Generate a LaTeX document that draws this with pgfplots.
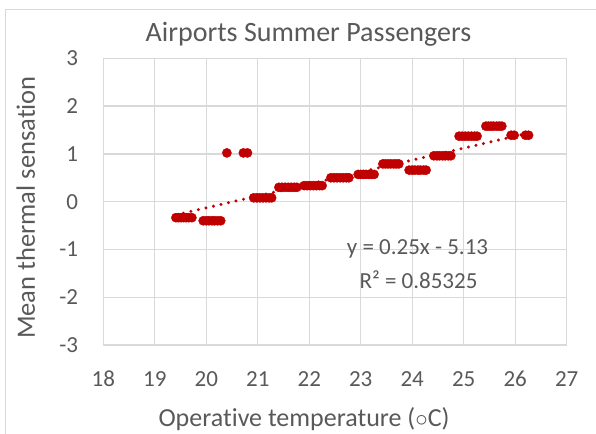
\documentclass[border=0pt]{standalone}
\usepackage{pgfplots}
\pgfplotsset{compat=1.18}
\usepackage{fontspec}
\setmainfont{Carlito}[Ligatures={NoCommon}]
\definecolor{dred}{HTML}{C00000}
\definecolor{gridc}{HTML}{D9D9D9}
\definecolor{txt}{HTML}{595959}
\begin{document}
\begin{tikzpicture}
\useasboundingbox (0pt,0pt) rectangle (596pt,433pt);
\draw[gridc, line width=1pt] (5.5pt,-5pt) -- (5.5pt,423.5pt) -- (610pt,423.5pt);
\begin{axis}[
  at={(103.3pt,88pt)}, anchor=south west,
  scale only axis, width=463.4pt, height=286.7pt,
  xmin=18, xmax=27, ymin=-3, ymax=3,
  xtick={18,19,20,21,22,23,24,25,26,27},
  xticklabels={18,19,20,21,22,23,24,25,26,27},
  ytick={-3,-2,-1,0,1,2,3},
  yticklabels={-3,-2,-1,0,1,2,3},
  grid=major, major grid style={gridc, line width=1.3pt},
  axis line style={gridc, line width=1.3pt},
  major tick length=0pt,
  tick label style={font=\fontsize{23}{27}\selectfont, text=txt},
  xticklabel style={anchor=base, yshift=-41.7pt, inner sep=0pt},
  yticklabel style={anchor=east, xshift=-25pt, inner sep=0pt},
  clip=false,
]
\addplot[dred, line width=3.3pt, line cap=round, dash pattern=on 0pt off 7.7pt, forget plot]
  coordinates {(19.41,-0.2775) (26.26,1.435)};
\addplot[only marks, mark=*, mark size=4.6pt, mark options={fill=dred, draw=dred}]
  table[row sep=\\] {
x y\\
19.41 -0.335\\ 19.46 -0.335\\ 19.51 -0.335\\ 19.56 -0.335\\ 19.61 -0.335\\ 19.66 -0.335\\ 19.72 -0.335\\
19.94 -0.40\\ 20.00 -0.40\\ 20.05 -0.40\\ 20.11 -0.40\\ 20.16 -0.40\\ 20.22 -0.40\\ 20.28 -0.40\\
20.40 1.02\\ 20.72 1.02\\ 20.80 1.02\\
20.92 0.08\\ 20.98 0.08\\ 21.04 0.08\\ 21.10 0.08\\ 21.16 0.08\\ 21.22 0.08\\ 21.27 0.08\\
21.41 0.30\\ 21.47 0.30\\ 21.53 0.30\\ 21.59 0.30\\ 21.65 0.30\\ 21.71 0.30\\ 21.76 0.30\\
21.90 0.335\\ 21.96 0.335\\ 22.02 0.335\\ 22.08 0.335\\ 22.14 0.335\\ 22.20 0.335\\ 22.25 0.335\\
22.42 0.50\\ 22.48 0.50\\ 22.54 0.50\\ 22.60 0.50\\ 22.66 0.50\\ 22.72 0.50\\ 22.77 0.50\\
22.95 0.57\\ 23.00 0.57\\ 23.05 0.57\\ 23.10 0.57\\ 23.16 0.57\\ 23.21 0.57\\ 23.26 0.57\\
23.43 0.79\\ 23.48 0.79\\ 23.53 0.79\\ 23.58 0.79\\ 23.64 0.79\\ 23.69 0.79\\ 23.74 0.79\\
23.94 0.66\\ 24.00 0.66\\ 24.05 0.66\\ 24.11 0.66\\ 24.16 0.66\\ 24.22 0.66\\ 24.27 0.66\\
24.42 0.96\\ 24.48 0.96\\ 24.53 0.96\\ 24.59 0.96\\ 24.64 0.96\\ 24.70 0.96\\ 24.75 0.96\\
24.91 1.37\\ 24.97 1.37\\ 25.03 1.37\\ 25.09 1.37\\ 25.15 1.37\\ 25.21 1.37\\ 25.26 1.37\\
25.43 1.58\\ 25.48 1.58\\ 25.53 1.58\\ 25.58 1.58\\ 25.64 1.58\\ 25.69 1.58\\ 25.74 1.58\\
25.92 1.39\\ 25.98 1.39\\
26.20 1.39\\ 26.26 1.39\\
};
\end{axis}
\node[anchor=base, text=txt, font=\fontsize{28}{32}\selectfont, inner sep=0pt] at (308.5pt,391.3pt) {Airports Summer Passengers};
\node[anchor=base, text=txt, font=\fontsize{26}{30}\selectfont, inner sep=0pt] at (304pt,6.3pt) {Operat\kern0pt ive temperature ($\circ$C)};
\node[anchor=base, rotate=90, text=txt, font=\fontsize{26.5}{30}\selectfont, inner sep=0pt] at (35pt,225.5pt) {Mean thermal sensat\kern0pt ion};
\node[anchor=base, text=txt, font=\fontsize{23}{27}\selectfont, inner sep=0pt] at (417.5pt,178.7pt) {y = 0.25x - 5.13};
\node[anchor=base, text=txt, font=\fontsize{23}{27}\selectfont, inner sep=0pt] at (418.5pt,144pt) {R² = 0.85325};
\end{tikzpicture}
\end{document}
